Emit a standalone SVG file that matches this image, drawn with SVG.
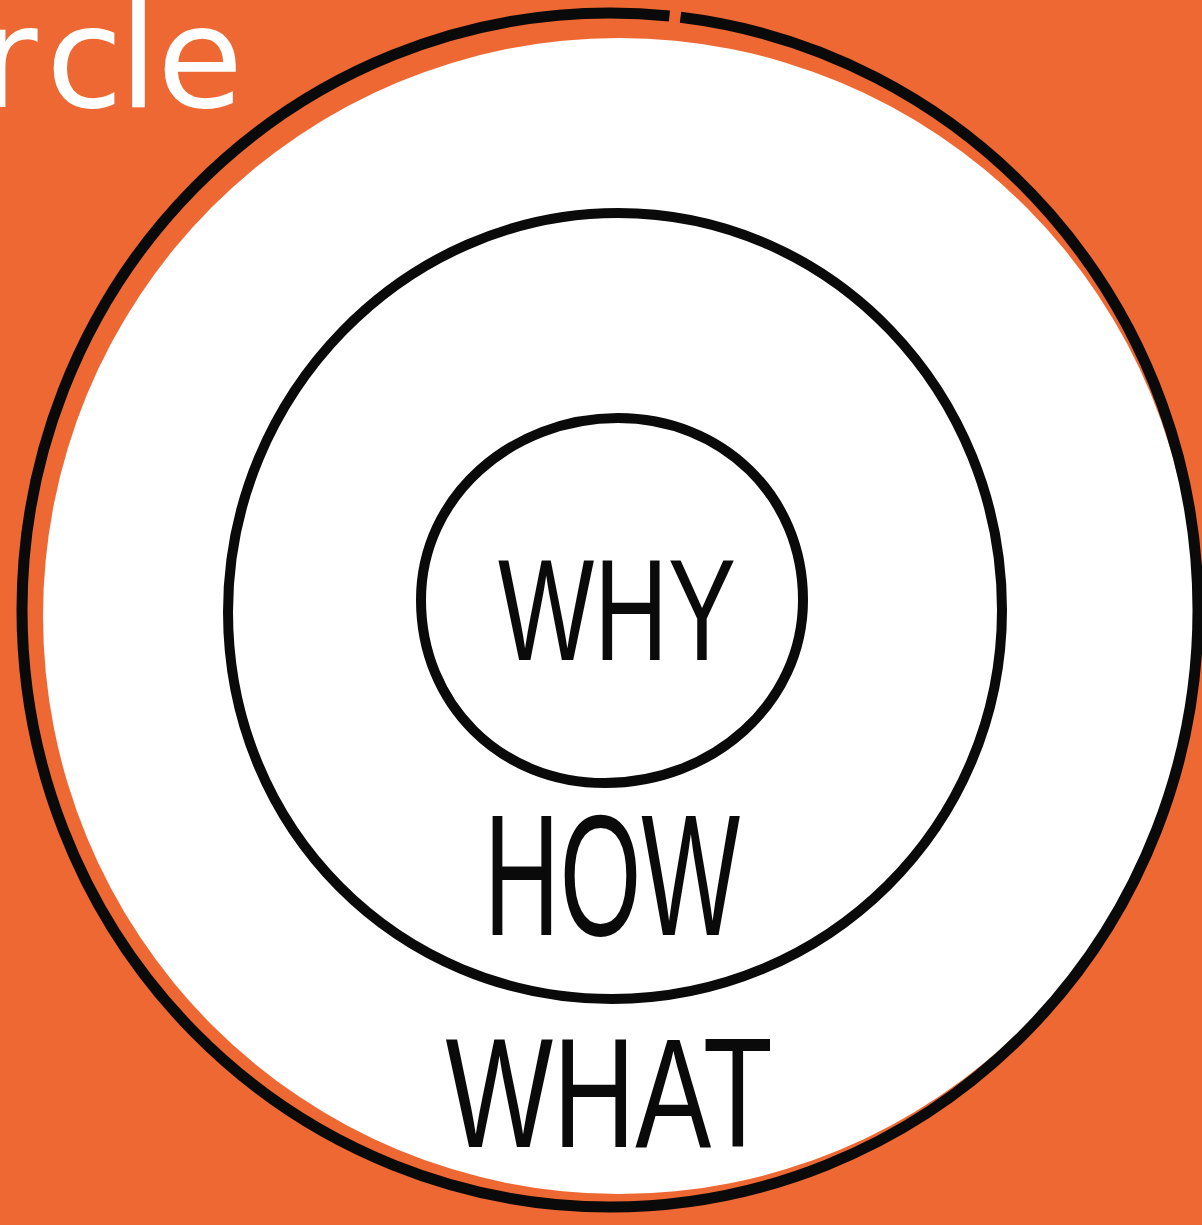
<svg xmlns="http://www.w3.org/2000/svg" width="1202" height="1225" viewBox="0 0 1202 1225">
<style>
.ring{fill:none;stroke:#0a0a0a;stroke-width:10;stroke-linecap:round;stroke-linejoin:round}
.lbl{font-family:"Liberation Sans","DejaVu Sans",sans-serif;fill:#0a0a0a;text-anchor:middle}
.title{font-family:"DejaVu Sans","Liberation Sans",sans-serif;fill:#ffffff}
</style>
<rect x="0" y="0" width="1202" height="1225" fill="#EE6833"/>
<text class="title" x="-20 46 119 157" y="107" font-size="140">rcle</text>
<g id="what">
<ellipse cx="619" cy="616" rx="576" ry="578" fill="#ffffff"/>
<ellipse class="ring" style="stroke-width:11;stroke-linecap:butt" cx="610" cy="610" rx="588" ry="597" pathLength="1000" stroke-dasharray="766 3 231 0"/>
<text class="lbl" x="609" y="1147" font-size="155" textLength="327" lengthAdjust="spacingAndGlyphs">WHAT</text>
</g>
<g id="how">
<path class="ring" d="M618 213 C832 213 1002 393 1002 610 C1002 827 826 999 612 999 C398 999 228 829 228 612 C228 395 404 213 618 213 Z"/>
<text class="lbl" x="612" y="935" font-size="172" textLength="256" lengthAdjust="spacingAndGlyphs">HOW</text>
</g>
<g id="why">
<path class="ring" d="M618 418 C722 418 803 496 803 600 C803 704 712 783 605 783 C500 783 421 704 421 600 C421 496 512 418 618 418 Z"/>
<text class="lbl" x="617" y="660" font-size="145" textLength="238" lengthAdjust="spacingAndGlyphs">WHY</text>
</g>
<g id="connectors"/>
</svg>
